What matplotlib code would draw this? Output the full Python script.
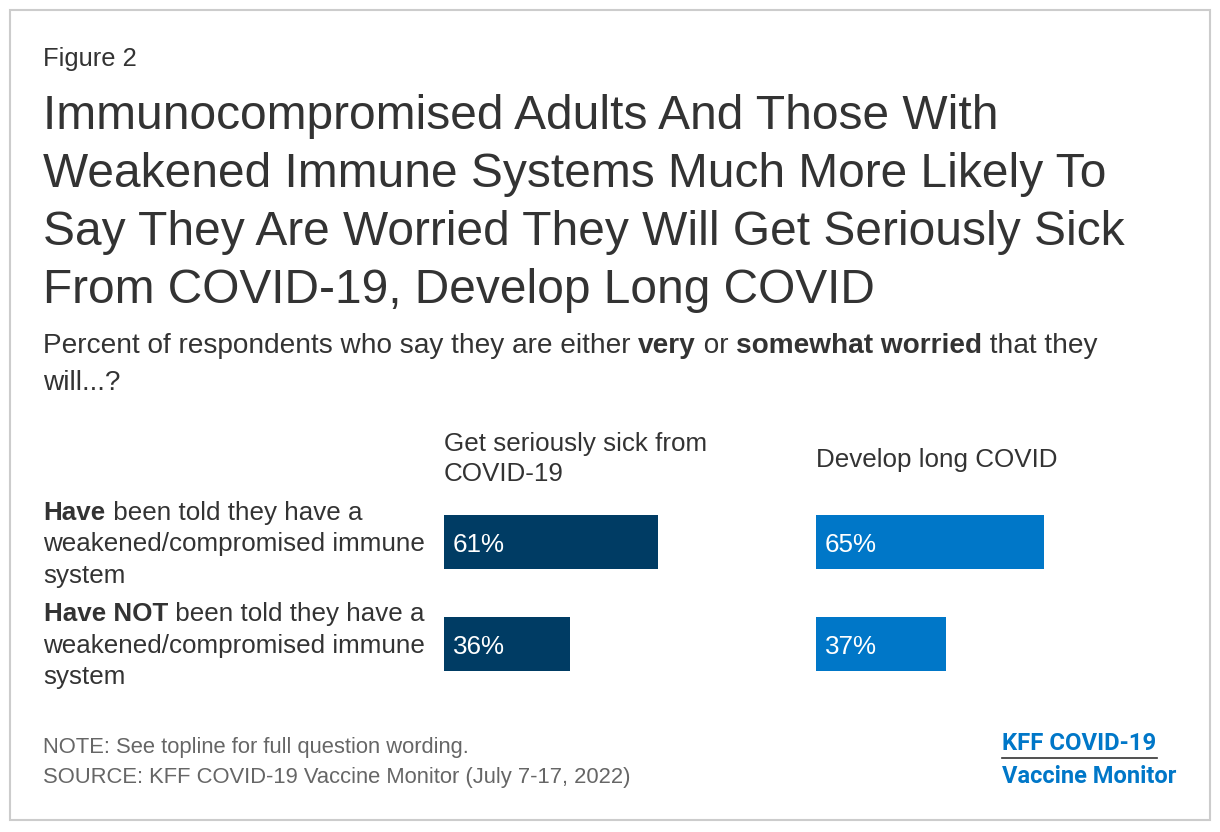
import matplotlib
matplotlib.use("Agg")
from matplotlib import pyplot as plt
from matplotlib.patches import Rectangle
from matplotlib.lines import Line2D

plt.rcParams['font.family'] = ['Liberation Sans', 'DejaVu Sans']

# data
rows = ['have', 'have_not']
panels = ['Get seriously sick from\nCOVID-19', 'Develop long COVID']
sick_vals = [61, 36]
longcovid_vals = [65, 37]
row_labels = [
    [[('Have', True), (' been told they have a', False)],
     [('weakened/compromised immune', False)],
     [('system', False)]],
    [[('Have NOT', True), (' been told they have a', False)],
     [('weakened/compromised immune', False)],
     [('system', False)]],
]
title_lines = ['Immunocompromised Adults And Those With',
               'Weakened Immune Systems Much More Likely To',
               'Say They Are Worried They Will Get Seriously Sick',
               'From COVID-19, Develop Long COVID']

W, H = 1220, 832
DARK = '#003c64'
LIGHT = '#0077c8'
TXT = '#333333'

fig = plt.figure(figsize=(W / 100, H / 100), dpi=100)
renderer = fig.canvas.get_renderer()


def fx(x):
    return x / W


def fy(y):
    return 1 - y / H


def rich(x, y, parts, size, color=TXT):
    # draw pieces one after another, bold where asked
    for s, bold in parts:
        t = fig.text(fx(x), fy(y), s, fontsize=size, color=color,
                     weight='bold' if bold else 'normal', va='baseline', ha='left')
        x += t.get_window_extent(renderer).width


# border
fig.patches.append(Rectangle((fx(10), fy(820)), fx(1200), 810 / H, transform=fig.transFigure,
                             fill=False, edgecolor='#cccccc', linewidth=1.5))

fig.text(fx(43), fy(66), 'Figure 2', fontsize=18.4, color=TXT, va='baseline')
for i, line in enumerate(title_lines):
    fig.text(fx(43), fy(129 + 58 * i), line, fontsize=34.5, color=TXT, va='baseline')

rich(43, 353, [('Percent of respondents who say they are either ', False), ('very', True),
               (' or ', False), ('somewhat worried', True), (' that they', False)], 20.2)
rich(43, 390, [('will...?', False)], 20.2)

# column headers
fig.text(fx(444), fy(451), 'Get seriously sick from', fontsize=18.7, color=TXT, va='baseline')
fig.text(fx(444), fy(481), 'COVID-19', fontsize=18.7, color=TXT, va='baseline')
fig.text(fx(816), fy(467), panels[1], fontsize=18.7, color=TXT, va='baseline')

# row labels
for r, lines in enumerate(row_labels):
    for k, parts in enumerate(lines):
        rich(43.5, 520 + 101 * r + 31.5 * k, parts, 18.7)

# bars
for left, vals, col in [(444, sick_vals, DARK), (816, longcovid_vals, LIGHT)]:
    ax = fig.add_axes([fx(left), fy(695), 350 / W, 204 / H])
    ax.barh(range(len(rows)), vals, height=0.52, color=col)
    ax.set_xlim(0, 100)
    ax.set_ylim(1.5, -0.5)
    ax.axis('off')
    for i, v in enumerate(vals):
        ax.text(2.6, i, f'{v}%', color='white', fontsize=18.7, va='center_baseline', ha='left')

# notes
fig.text(fx(43), fy(753), 'NOTE: See topline for full question wording.', fontsize=15.8,
         color='#666666', va='baseline')
fig.text(fx(43), fy(783), 'SOURCE: KFF COVID-19 Vaccine Monitor (July 7-17, 2022)', fontsize=15.8,
         color='#666666', va='baseline')

# logo
fig.text(fx(1002), fy(750), 'KFF COVID-19', fontsize=17.2, weight='bold', color=LIGHT,
         family='Roboto', va='baseline')
fig.lines.append(Line2D([fx(1002), fx(1157)], [fy(757.5), fy(757.5)], transform=fig.transFigure,
                        color='#333333', linewidth=1.2))
fig.text(fx(1002), fy(783), 'Vaccine Monitor', fontsize=17, weight='bold', color=LIGHT,
         family='Roboto', va='baseline')

fig.savefig('out.png', dpi=100, facecolor='white')
